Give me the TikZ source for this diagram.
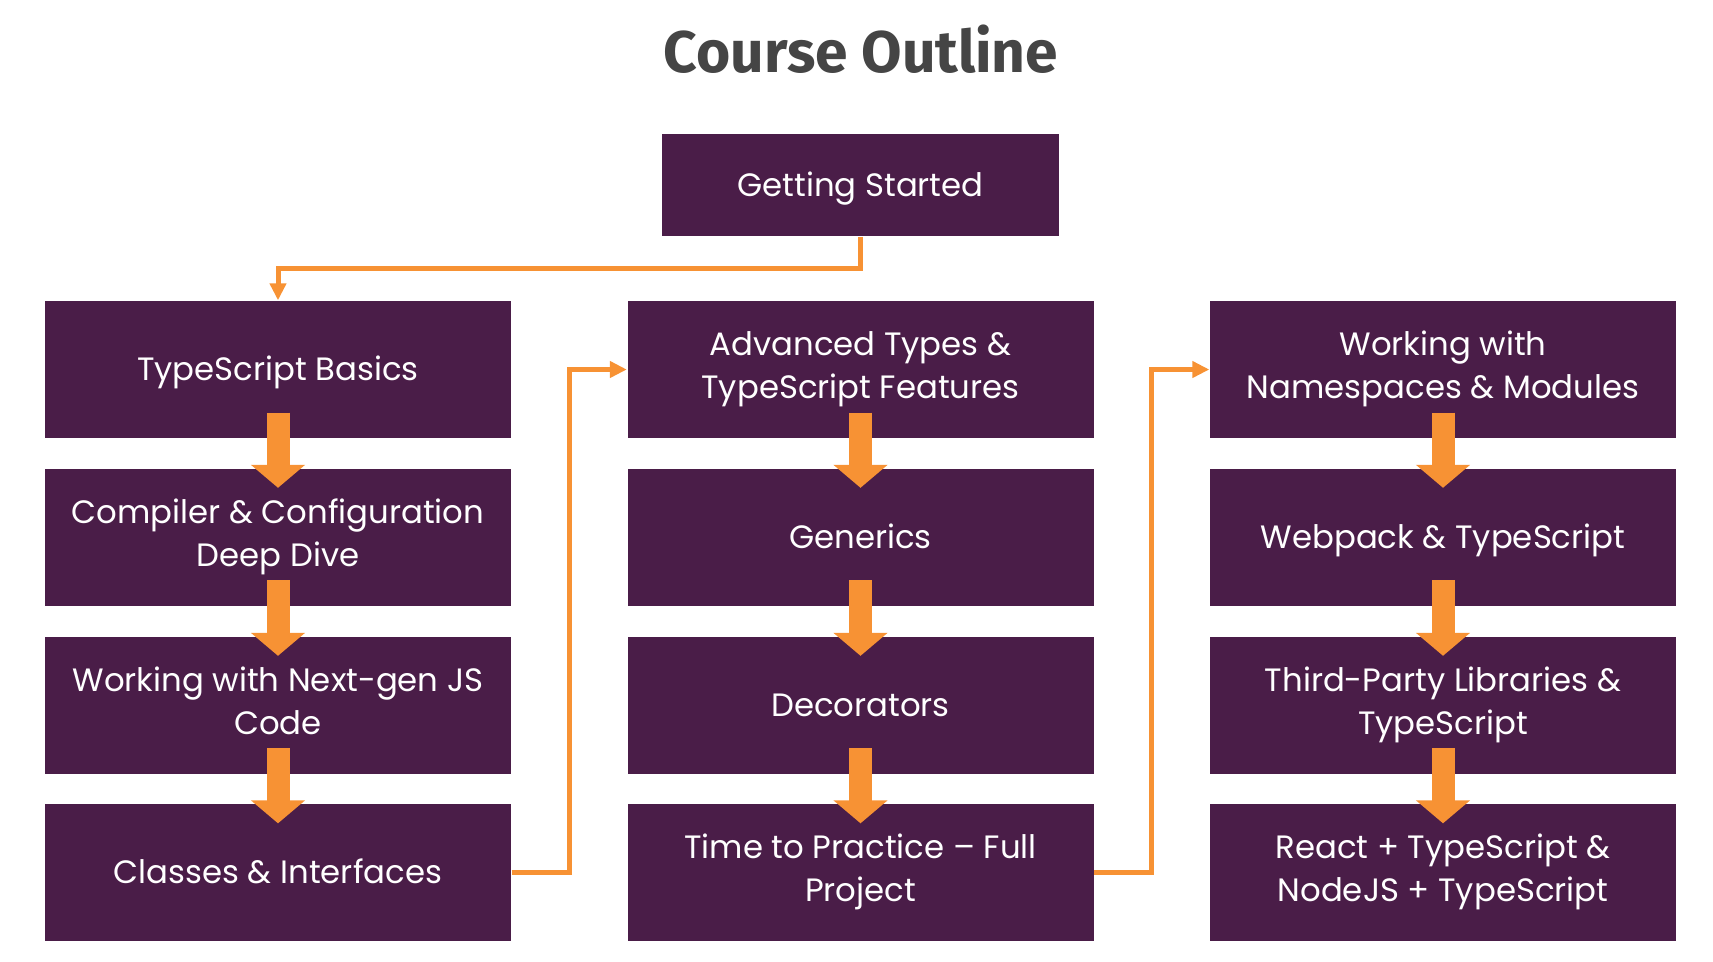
\documentclass[tikz,border=0pt]{standalone}
\usepackage{fontspec}
\setmainfont{Poppins}
\newfontfamily\titlefont{Fira Sans}
\usetikzlibrary{arrows.meta}
\definecolor{boxpurple}{RGB}{74,29,72}
\definecolor{arroworange}{RGB}{247,146,52}
\definecolor{titlegray}{RGB}{69,69,69}
\begin{document}
\begin{tikzpicture}[
  topic/.style={fill=boxpurple, text=white, minimum width=4.66cm, minimum height=1.37cm,
    align=center, inner sep=0pt, font=\fontsize{9.2}{12.2}\selectfont,
    execute at begin node={\rule{0pt}{9pt}}, execute at end node={\rule[-2.6pt]{0pt}{2.6pt}}},
  pair/.style={execute at begin node={\rule{0pt}{11.4pt}}},
  flow/.style={draw=arroworange, line width=0.05cm, -{Triangle[width=0.16cm,length=0.17cm]}},
  bigarrow/.style={draw=arroworange, line width=0.23cm, -{Triangle[width=0.53cm,length=0.23cm]}}
]
\useasboundingbox (0,0) rectangle (17.13,-9.61);
% title
\node[text=titlegray, font=\titlefont\bfseries\fontsize{16.7}{19}\selectfont] (title) at (8.61,-0.49) {Course Outline};
\node[topic, minimum width=3.97cm, minimum height=1.02cm] (start) at (8.605,-1.85) {Getting Started};
% first column
\node[topic] (basics) at (2.78,-3.695) {TypeScript Basics};
\node[topic, pair] (compiler) at (2.78,-5.37) {Compiler \& Configuration\\Deep Dive};
\node[topic, pair] (nextgen) at (2.78,-7.05) {Working with Next-gen JS\\Code};
\node[topic] (classes) at (2.78,-8.725) {Classes \& Interfaces};
% second column
\node[topic, pair] (advanced) at (8.605,-3.695) {Advanced Types \&\\TypeScript Features};
\node[topic] (generics) at (8.605,-5.37) {Generics};
\node[topic] (decorators) at (8.605,-7.05) {Decorators};
\node[topic, pair] (practice) at (8.605,-8.725) {Time to Practice – Full\\Project};
% third column
\node[topic, pair] (namespaces) at (14.43,-3.695) {Working with\\Namespaces \& Modules};
\node[topic] (webpack) at (14.43,-5.37) {Webpack \& TypeScript};
\node[topic, pair] (thirdparty) at (14.43,-7.05) {Third-Party Libraries \&\\TypeScript};
\node[topic, pair] (react) at (14.43,-8.725) {React + TypeScript \&\\NodeJS + TypeScript};
% connectors
\draw[flow] (start.south) -- ++(0,-0.32) -| (basics.north);
\draw[flow] (classes.east) -- ++(0.58,0) |- (advanced.west);
\draw[flow] (practice.east) -- ++(0.57,0) |- (namespaces.west);
\foreach \a/\b in {basics/compiler, compiler/nextgen, nextgen/classes,
  advanced/generics, generics/decorators, decorators/practice,
  namespaces/webpack, webpack/thirdparty, thirdparty/react}
  \draw[bigarrow] ([yshift=0.26cm]\a.south) -- ([yshift=-0.2cm]\b.north);
\end{tikzpicture}
\end{document}
